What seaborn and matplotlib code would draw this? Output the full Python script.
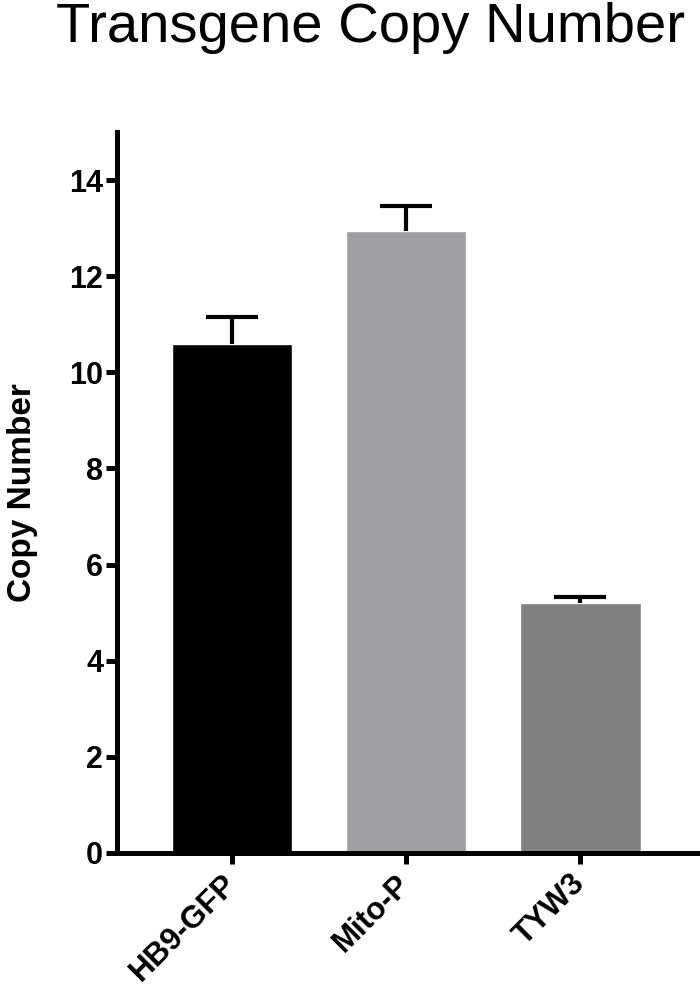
import pandas as pd
import matplotlib
matplotlib.use("Agg")
import matplotlib.pyplot as plt
import seaborn as sns

# ---- data ----
groups = ["HB9-GFP", "Mito-P", "TYW3"]
copy_number = [10.58, 12.94, 5.21]
sem = [0.58, 0.52, 0.12]
bar_colors = ["#000000", "#a0a0a4", "#808080"]
y_ticks = [0, 2, 4, 6, 8, 10, 12, 14]

df = pd.DataFrame({"group": groups, "copies": copy_number})

sns.set_style("ticks", {"axes.edgecolor": "black", "text.color": "black",
                        "axes.labelcolor": "black", "xtick.color": "black",
                        "ytick.color": "black"})
plt.rcParams["font.family"] = ["Liberation Sans", "DejaVu Sans"]

fig = plt.figure(figsize=(7, 9.93), dpi=100)
ax = fig.add_axes([0.167, 0.141, 0.829, 0.726])

sns.barplot(data=df, x="group", y="copies", hue="group", palette=bar_colors,
            width=0.69, errorbar=None, legend=False, saturation=1, ax=ax)

# upper-only SEM bars (hide the lower cap)
_, caps, _ = ax.errorbar(range(len(groups)), copy_number,
                         yerr=[[0] * len(sem), sem], fmt="none",
                         ecolor="black", elinewidth=3, capsize=19, capthick=3)
caps[0].set_visible(False)

ax.set_ylim(0, 15)
ax.set_xlim(-0.66, 2.67)
ax.set_yticks(y_ticks)
ax.set_yticklabels([str(t) for t in y_ticks], fontsize=22, fontweight="bold",
                   color="black")
ax.set_xticks(range(len(groups)))
ax.set_xticklabels(groups, fontsize=22.5, fontweight="bold", rotation=45,
                   ha="right", va="center", rotation_mode="anchor",
                   color="black")
ax.set_xlabel("")
ax.set_ylabel("Copy Number", fontsize=24, fontweight="bold", labelpad=22,
              color="black")

for side in ["left", "bottom"]:
    ax.spines[side].set_linewidth(3.6)
sns.despine(ax=ax)
ax.tick_params(axis="both", width=3.6, length=8, pad=2, color="black")
ax.tick_params(axis="x", pad=11)

fig.text(0.529, 0.972, "Transgene Copy Number", fontsize=40.5,
         ha="center", va="center", color="black")

fig.savefig("out.png", dpi=100)
